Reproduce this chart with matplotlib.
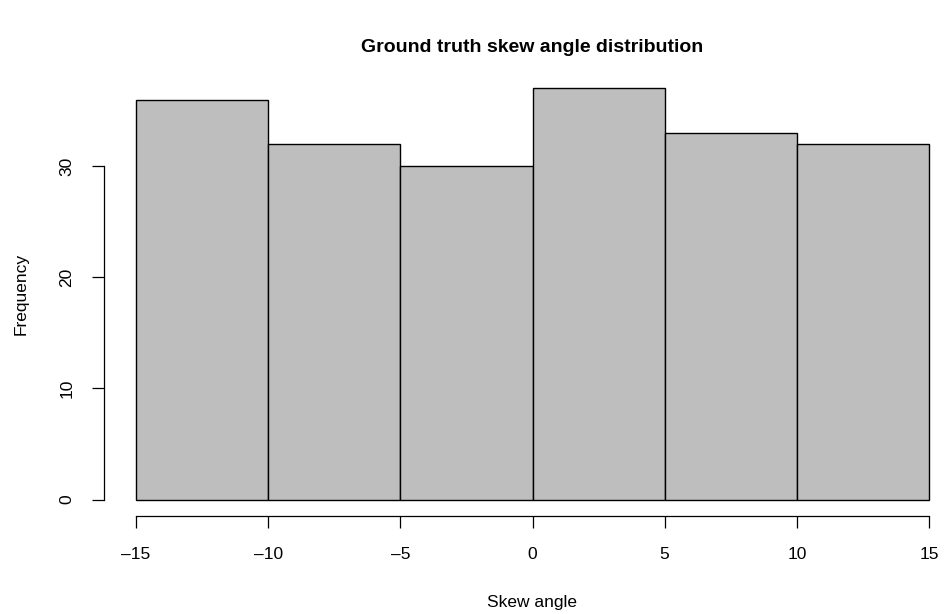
import matplotlib.pyplot as plt

plt.rcParams['font.family'] = ['Liberation Sans', 'DejaVu Sans']

# histogram bins and counts
bin_edges = [-15, -10, -5, 0, 5, 10, 15]
counts = [36, 32, 30, 37, 33, 32]
x_ticks = [-15, -10, -5, 0, 5, 10, 15]
y_ticks = [0, 10, 20, 30]

W, H = 945, 614
fig = plt.figure(figsize=(W / 100, H / 100), dpi=100)
# plot region in pixels (R style, 4% padding on the data range)
left, right, top, bottom = 104.3, 960.7, 72, 516
ax = fig.add_axes([left / W, (H - bottom) / H, (right - left) / W, (bottom - top) / H])

widths = [bin_edges[i + 1] - bin_edges[i] for i in range(len(counts))]
ax.bar(bin_edges[:-1], counts, width=widths, align='edge',
       color='#bebebe', edgecolor='black', linewidth=1.0)

ax.set_xlim(-16.2, 16.2)
ax.set_ylim(-1.48, 38.48)

for s in ['top', 'right']:
    ax.spines[s].set_visible(False)
ax.spines['left'].set_bounds(0, 30)
ax.spines['bottom'].set_bounds(-15, 15)
ax.spines['left'].set_linewidth(0.9)
ax.spines['bottom'].set_linewidth(0.9)

ax.set_xticks(x_ticks)
ax.set_xticklabels([str(t).replace('-', '\u2013') for t in x_ticks])
ax.set_yticks(y_ticks)
ax.set_yticklabels([str(t) for t in y_ticks], rotation=90, va='center')
ax.tick_params(axis='both', direction='out', length=8.5, width=0.9, labelsize=12.5, pad=14)
ax.tick_params(axis='y', pad=13)

ax.set_ylabel('Frequency', fontsize=12.5, labelpad=22)
fig.text(532 / W, 1 - 602 / H, 'Skew angle', ha='center', va='center', fontsize=12.5)
fig.text(532 / W, 1 - 47 / H, 'Ground truth skew angle distribution',
         ha='center', va='center', fontsize=14, fontweight='bold')

fig.savefig('out.png', dpi=100)
